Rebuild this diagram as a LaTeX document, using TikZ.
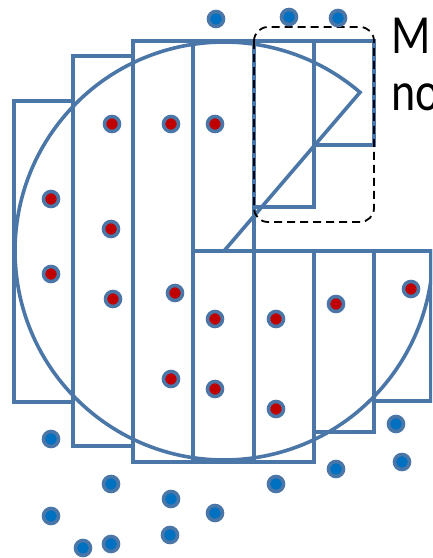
\documentclass[tikz,border=0pt]{standalone}
\usepackage{fontspec}
\usepackage{xcolor}
\usepackage{graphicx}
\usepackage{tikz}
\newfontfamily\slidefont{Carlito}
\definecolor{regionblue}{RGB}{74,118,168}
\definecolor{dotblue}{RGB}{0,112,192}
\definecolor{dotred}{RGB}{192,0,0}

\begin{document}
\begin{tikzpicture}[
    x=1pt, y=-1pt,
    every node/.style={align=left, font=\slidefont}
]

\tikzset{
    regionline/.style={draw=regionblue, line width=3.6pt},
    selectbox/.style={draw=black, dash pattern=on 8pt off 5pt, line width=1.8pt, rounded corners=14pt},
    insidedot/.style={circle, draw=regionblue, fill=dotred, line width=3.6pt, minimum size=15pt, inner sep=0pt},
    outsidedot/.style={circle, draw=regionblue, fill=dotblue, line width=3.6pt, minimum size=15pt, inner sep=0pt},
    labeltext/.style={anchor=base west, inner sep=0pt, font=\slidefont\fontsize{46}{48}\selectfont, text=black}
}

\clip (0,0) rectangle (432,558);

% column boxes
\foreach \xa/\ya/\xb/\yb in {14/101/73/402, 73/56/133/446, 133/41/193/462,
    193/41/254/251, 254/41/314/207, 314/41/374/145,
    193/251/254/462, 254/251/314/462, 314/251/374/432, 374/251/431/401}
    \draw [regionline] (\xa,\ya) rectangle (\xb,\yb);

% region with the wedge cut out
\coordinate (centre) at (224,251);
\draw [regionline] (centre) -- +(-49.4:209) arc [start angle=-49.4, end angle=-360, radius=209] -- cycle;

% selected part
\draw [selectbox] (254,27) rectangle (374,222);

% samples inside
\foreach \px/\py [count=\i] in {112/124, 171/124, 215/124, 51/199, 111/229, 51/274,
    113/299, 175/293, 215/319, 276/319, 336/304, 411/289, 171/379, 215/389, 276/409}
    \node [insidedot] (in\i) at (\px,\py) {};

% samples outside
\foreach \px/\py [count=\i] in {216/19, 289/17, 338/18, 51/439, 111/484, 171/499,
    51/516, 83/548, 111/544, 170/535, 215/513, 276/484, 336/469, 396/424, 402/462}
    \node [outsidedot] (out\i) at (\px,\py) {};

\node [labeltext] (titletop) at (391,53) {\scalebox{1}[1.2]{M}};
\node [labeltext] (titlebot) at (391,110) {\scalebox{1}[1.2]{no}};

\end{tikzpicture}
\end{document}
